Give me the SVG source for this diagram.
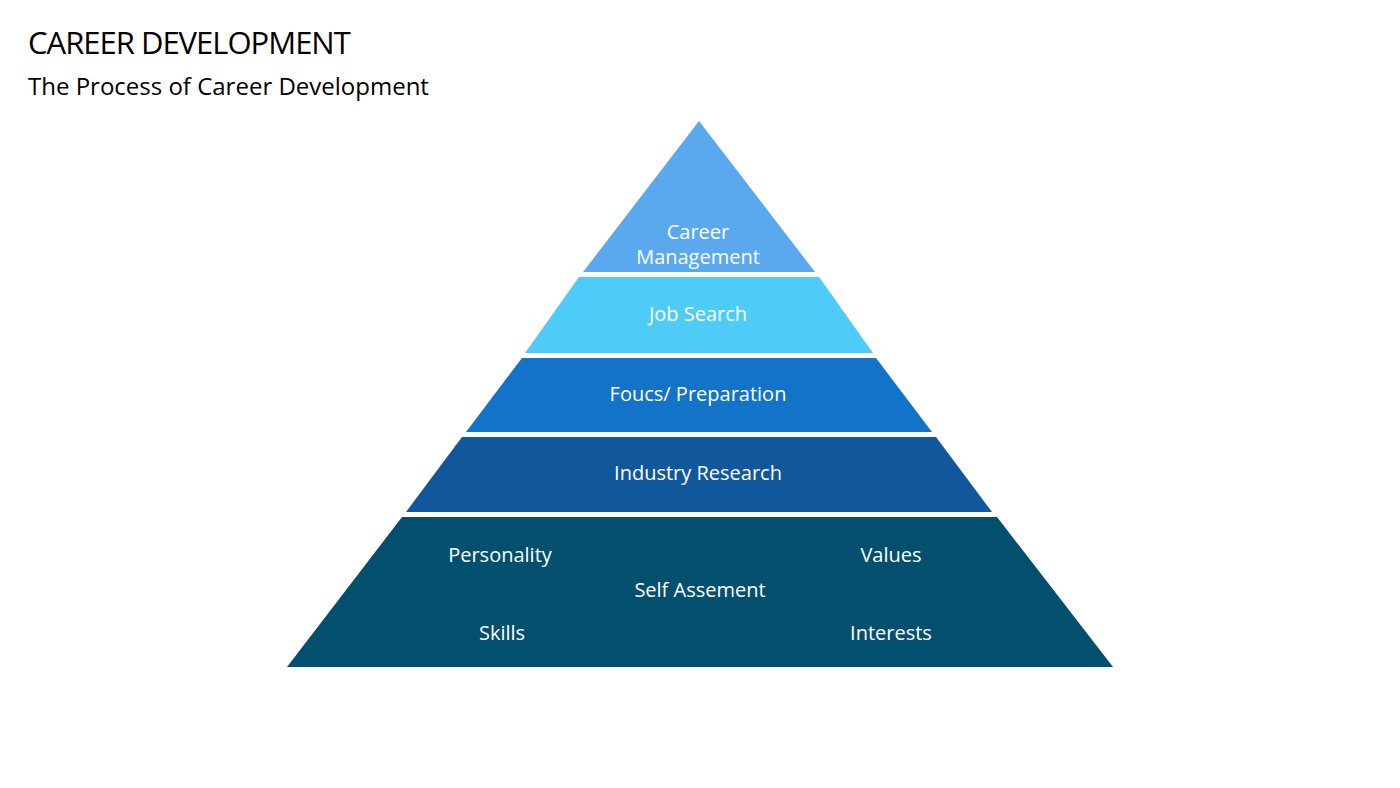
<svg xmlns="http://www.w3.org/2000/svg" width="1400" height="788" viewBox="0 0 1400 788">
<style>
.t{font-family:"Open Sans","Liberation Sans",sans-serif;fill:#fff;font-size:20px;text-anchor:middle}
.h{font-family:"Open Sans","Liberation Sans",sans-serif;fill:#000}
</style>
<rect width="1400" height="788" fill="#fff"/>
<text class="h" x="28" y="54" font-size="31" letter-spacing="-1">CAREER DEVELOPMENT</text>
<text class="h" x="28" y="95" font-size="24">The Process of Career Development</text>
<g id="career-management"><polygon points="699,121 583,272 815,272" fill="#5aa9ee"/>
<text class="t" x="698" y="239" font-size="18">Career</text><text class="t" x="698" y="264" font-size="18">Management</text></g>
<g id="job-search"><polygon points="579,277 819,277 873,353 525,353" fill="#4fcbf7"/>
<text class="t" x="698" y="321">Job Search</text></g>
<g id="focus"><polygon points="522,358 876,358 932,432 466,432" fill="#1273c9"/>
<text class="t" x="698" y="401">Foucs/ Preparation</text></g>
<g id="industry"><polygon points="462,437 936,437 992,512 406,512" fill="#10579b"/>
<text class="t" x="698" y="480">Industry Research</text></g>
<g id="self"><polygon points="402,517 997,517 1113,667 287,667" fill="#024f6e"/>
<text class="t" x="500" y="562">Personality</text>
<text class="t" x="891" y="562">Values</text>
<text class="t" x="700" y="597">Self Assement</text>
<text class="t" x="502" y="640">Skills</text>
<text class="t" x="891" y="640">Interests</text></g>
<g id="connectors"/>
</svg>
